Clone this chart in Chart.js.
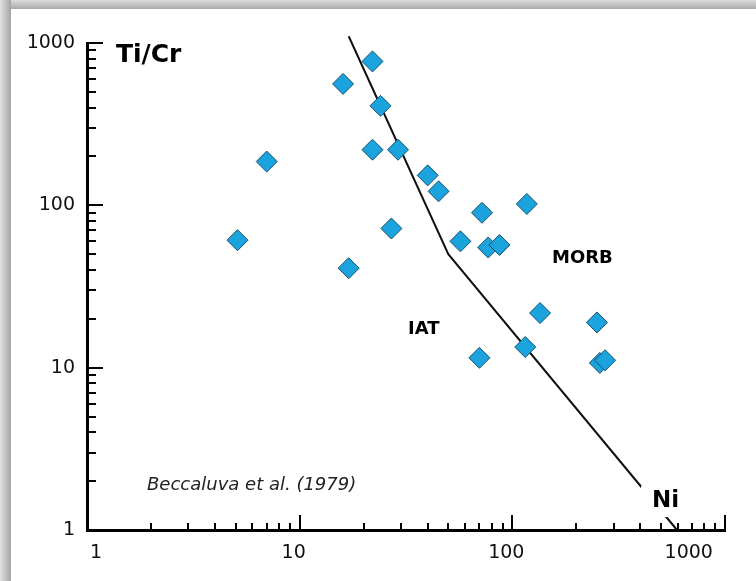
<!DOCTYPE html>
<html>
<head>
<meta charset="utf-8">
<script src="https://cdn.jsdelivr.net/npm/chart.js@4.4.1/dist/chart.umd.min.js"></script>
<style>
  html, body { margin: 0; padding: 0; background: #fff; }
  #wrap { position: relative; width: 756px; height: 581px; overflow: hidden; background: #fff; }
  /* gray shadow strips along top and left edge */
  #shTop { position: absolute; left: 0; top: 0; width: 756px; height: 9px;
           background: linear-gradient(to bottom, #dcdcdc, #a9a9a9); }
  #shLeft { position: absolute; left: 0; top: 0; width: 11px; height: 581px;
            background: linear-gradient(to right, #e2e2e2, #a4a4a4); }
  canvas { position: absolute; left: 0; top: 0; }
</style>
</head>
<body>
<div id="wrap">
  <div id="shTop"></div>
  <div id="shLeft"></div>
  <canvas id="chart" width="756" height="581"></canvas>
</div>
<script>
// samples (Ni ppm vs Ti/Cr)
const sampleNi   = [5.1, 7.0, 16, 22, 24, 22, 29, 17, 27, 40, 45, 57, 72, 117, 77, 87, 135, 250, 115, 70, 258, 273];
const sampleTiCr = [61, 186, 560, 770, 410, 220, 220, 41, 72, 153, 122, 60, 90, 102, 55, 57, 21.7, 19, 13.4, 11.5, 10.7, 11.1];

// IAT / MORB boundary line
const boundaryNi   = [17, 50, 595];
const boundaryTiCr = [1100, 50, 1];

// axis ticks
const decadeTicks = [1, 10, 100, 1000];
const xTickLabels = ['   1', '10  ', '100  ', '1000            '];
const yTickLabels = ['1', '10', '100', '1000'];

const FONT = "'DejaVu Sans', sans-serif";

function logTicks(min, max) {
    const out = [];
    for (let d = min; d < max; d *= 10) {
        for (let k = 1; k < 10; k++) out.push(d * k);
    }
    out.push(max);
    return out;
}

const samplePoints = sampleNi.map((x, i) => ({x: x, y: sampleTiCr[i]}));
const boundaryPoints = boundaryNi.map((x, i) => ({x: x, y: boundaryTiCr[i]}));

// inward tick marks + annotations
const decorPlugin = {
    id: 'decor',
    afterDatasetsDraw(chart) {
        const ctx = chart.ctx;
        ctx.save();
        // label background for "Ni" (hides the boundary line behind it)
        ctx.fillStyle = '#fff';
        ctx.fillRect(641, 486, 44, 31);
        ctx.fillStyle = '#000';
        ctx.textBaseline = 'alphabetic';
        ctx.textAlign = 'left';
        ctx.font = 'bold 23px ' + FONT;
        ctx.fillText('Ni', 652, 507);
        ctx.font = 'bold 25px ' + FONT;
        ctx.fillText('Ti/Cr', 116, 62);
        ctx.font = 'bold 18px ' + FONT;
        ctx.fillText('MORB', 552, 263);
        ctx.fillText('IAT', 408, 334);
        ctx.font = 'italic 18px ' + FONT;
        ctx.fillStyle = '#222';
        ctx.fillText('Beccaluva et al. (1979)', 147, 490);
        ctx.restore();
    },
    afterDraw(chart) {
        const ctx = chart.ctx;
        const xs = chart.scales.x, ys = chart.scales.y;
        const area = chart.chartArea;
        ctx.save();
        ctx.strokeStyle = '#000';
        ctx.lineWidth = 2;
        ctx.beginPath();
        xs.ticks.forEach(t => {
            const p = Math.round(xs.getPixelForValue(t.value));
            const len = decadeTicks.includes(t.value) ? 15 : 7;
            ctx.moveTo(p, area.bottom);
            ctx.lineTo(p, area.bottom - len);
        });
        ys.ticks.forEach(t => {
            const p = Math.round(ys.getPixelForValue(t.value));
            const len = decadeTicks.includes(t.value) ? 16 : 9;
            ctx.moveTo(area.left, p);
            ctx.lineTo(area.left + len, p);
        });
        ctx.stroke();
        ctx.restore();
    }
};

const config = {
    type: 'scatter',
    data: {
        datasets: [{
            label: 'samples',
            data: samplePoints,
            pointStyle: 'rectRot',
            pointRadius: 10.5,
            backgroundColor: '#1ba3dd',
            borderColor: '#17506c',
            borderWidth: 1,
            order: 0
        }, {
            label: 'boundary',
            data: boundaryPoints,
            showLine: true,
            pointRadius: 0,
            borderColor: '#111',
            borderWidth: 2,
            fill: false,
            clip: false,
            order: 1
        }]
    },
    options: {
        responsive: false,
        animation: false,
        layout: { padding: { left: 0, top: 43, right: 31, bottom: 0 } },
        plugins: { legend: { display: false }, tooltip: { enabled: false } },
        scales: {
            x: {
                type: 'logarithmic',
                min: 1, max: 1000,
                grid: { display: false, drawTicks: false },
                border: { display: true, color: '#000', width: 3 },
                afterBuildTicks: s => { s.ticks = logTicks(1, 1000).map(v => ({value: v})); },
                afterFit: s => { s.height = 51; s.paddingLeft = 0; s.paddingRight = 0; },
                ticks: {
                    autoSkip: false,
                    maxRotation: 0,
                    padding: 12,
                    color: '#111',
                    font: { family: FONT, size: 19 },
                    callback: v => {
                        const i = decadeTicks.indexOf(v);
                        return i >= 0 ? xTickLabels[i] : '';
                    }
                }
            },
            y: {
                type: 'logarithmic',
                min: 1, max: 1000,
                grid: { display: false, drawTicks: false },
                border: { display: true, color: '#000', width: 3 },
                afterBuildTicks: s => { s.ticks = logTicks(1, 1000).map(v => ({value: v})); },
                afterFit: s => { s.width = 87; s.paddingTop = 0; s.paddingBottom = 0; },
                ticks: {
                    autoSkip: false,
                    padding: 12,
                    color: '#111',
                    font: { family: FONT, size: 19 },
                    callback: v => {
                        const i = decadeTicks.indexOf(v);
                        return i >= 0 ? yTickLabels[i] : '';
                    }
                }
            }
        }
    },
    plugins: [decorPlugin]
};

new Chart(document.getElementById('chart'), config);
</script>
</body>
</html>
